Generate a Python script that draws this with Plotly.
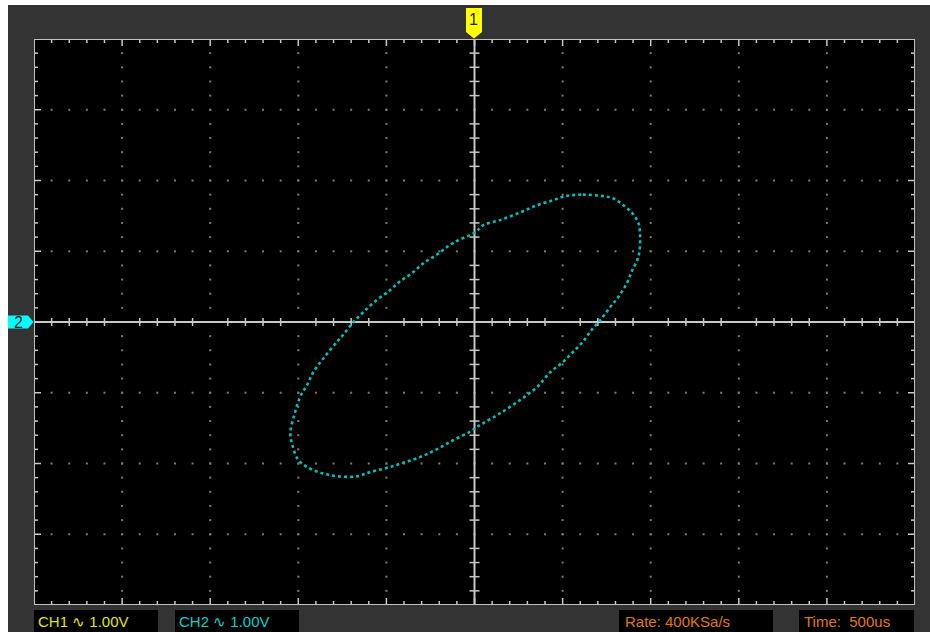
import plotly.graph_objects as go

# ---- data (volts, 1.00 V/div; CH1 on X, CH2 on Y) ----
ch1_x = [1.03, 1.23, 1.45, 1.57, 1.69, 1.79, 1.86, 1.88, 1.86, 1.79, 1.73, 1.63, 1.54, 1.43,
         1.33, 1.23, 1.12, 1.00, 0.86, 0.71, 0.52, 0.29, 0.10, 0.03, -0.05, -0.24, -0.43, -0.62,
         -0.81, -0.99, -1.18, -1.33, -1.56, -1.75, -1.90, -2.00, -2.06, -2.09, -2.04, -1.98, -1.90,
         -1.83, -1.70, -1.56, -1.49, -1.38, -1.27, -1.11, -0.96, -0.85, -0.71, -0.58, -0.43, -0.24,
         0.01, 0.10, 0.29, 0.52, 0.71, 0.89, 1.03]
ch2_y = [1.78, 1.80, 1.78, 1.75, 1.65, 1.54, 1.40, 1.20, 0.92, 0.73, 0.55, 0.35, 0.21, 0.03,
         -0.11, -0.28, -0.42, -0.57, -0.71, -0.92, -1.10, -1.29, -1.43, -1.48, -1.55, -1.67, -1.80,
         -1.91, -1.99, -2.06, -2.12, -2.18, -2.18, -2.13, -2.05, -1.95, -1.77, -1.57, -1.29, -1.06,
         -0.89, -0.71, -0.49, -0.28, -0.18, -0.01, 0.13, 0.31, 0.45, 0.57, 0.69, 0.83, 0.95, 1.12,
         1.27, 1.37, 1.44, 1.55, 1.65, 1.72, 1.78]
ch1_label = "CH1 ∿ 1.00V"
ch2_label = "CH2 ∿ 1.00V"
rate_label = "Rate: 400KSa/s"
time_label = "Time:  500us"
x_divs = 10
y_divs = 8
sub = 5

W, H = 930, 632
PX0, PX1, PY0, PY1 = 34, 915, 39, 605
xpd = (PX1 - PX0) / x_divs
ypd = (PY1 - PY0) / y_divs


def px(x):
    return x / W


def py(y):
    return 1 - y / H


fig = go.Figure()

# dotted grid
gx, gy = [], []
for i in range(-x_divs // 2 + 1, x_divs // 2):
    if i == 0:
        continue
    for k in range(-y_divs // 2 * sub + 1, y_divs // 2 * sub):
        gx.append(i)
        gy.append(k / sub)
for j in range(-y_divs // 2 + 1, y_divs // 2):
    if j == 0:
        continue
    for k in range(-x_divs // 2 * sub + 1, x_divs // 2 * sub):
        gx.append(k / sub)
        gy.append(j)
fig.add_trace(go.Scatter(x=gx, y=gy, mode="markers",
                         marker=dict(symbol="square", size=2, color="#7a7a7a", line=dict(width=0)),
                         hoverinfo="skip"))

# ticks
tx, ty = [], []
hx = x_divs / 2
hy = y_divs / 2
dxp = 1 / xpd  # one pixel in x data units
dyp = 1 / ypd
for k in range(-x_divs // 2 * sub + 1, x_divs // 2 * sub):
    v = k / sub
    ln = 7 if k % sub == 0 else 4
    tx += [v, v, None, v, v, None]
    ty += [hy, hy - ln * dyp, None, -hy, -hy + ln * dyp, None]
    if k % sub != 0:
        tx += [v, v, None]
        ty += [-4 * dyp, 4 * dyp, None]
for k in range(-y_divs // 2 * sub + 1, y_divs // 2 * sub):
    v = k / sub
    ln = 7 if k % sub == 0 else 4
    tx += [-hx, -hx + ln * dxp, None, hx, hx - ln * dxp, None]
    ty += [v, v, None, v, v, None]
    if k % sub != 0:
        tx += [-5 * dxp, 5 * dxp, None]
        ty += [v, v, None]
fig.add_trace(go.Scatter(x=tx, y=ty, mode="lines", line=dict(color="#c8c8c8", width=1.5),
                         hoverinfo="skip"))
# center axes
fig.add_trace(go.Scatter(x=[-hx, hx, None, 0, 0], y=[0, 0, None, -hy, hy], mode="lines",
                         line=dict(color="#c8c8c8", width=2), hoverinfo="skip"))

# XY trace
fig.add_trace(go.Scatter(x=ch1_x, y=ch2_y, mode="lines",
                         line=dict(color="#00c0c0", width=2.6, dash="dot", shape="spline"),
                         hoverinfo="skip"))

shapes = []
# dark background
shapes.append(dict(type="rect", xref="paper", yref="paper", x0=px(8), x1=px(W), y0=py(H), y1=py(5),
                   fillcolor="#333333", line=dict(width=0), layer="below"))
shapes.append(dict(type="rect", xref="paper", yref="paper", x0=px(PX0), x1=px(PX1), y0=py(PY1), y1=py(PY0),
                   fillcolor="#000000", line=dict(width=0), layer="below"))
# border
shapes.append(dict(type="rect", xref="x", yref="y", x0=-hx, x1=hx, y0=-hy, y1=hy,
                   line=dict(color="#c0c0c0", width=2), layer="above"))
# label boxes
for (a, b) in [(34, 158), (175, 299), (619, 773), (799, 914)]:
    shapes.append(dict(type="rect", xref="paper", yref="paper", x0=px(a), x1=px(b), y0=py(632), y1=py(610),
                       fillcolor="#000000", line=dict(width=0), layer="below"))


def path(pts):
    return "M " + " L ".join(f"{px(a):.5f},{py(b):.5f}" for a, b in pts) + " Z"


# channel markers
shapes.append(dict(type="path", xref="paper", yref="paper",
                   path=path([(466, 8), (482, 8), (482, 32), (474, 38.5), (466, 32)]),
                   fillcolor="#ffff00", line=dict(width=0)))
shapes.append(dict(type="path", xref="paper", yref="paper",
                   path=path([(8, 315.5), (28, 315.5), (33.5, 322), (28, 328.5), (8, 328.5)]),
                   fillcolor="#00ffff", line=dict(width=0)))

font = "Liberation Sans, Arial, sans-serif"
ann = [
    dict(x=px(474), y=py(20), text="1", font=dict(color="#202020", size=16, family=font)),
    dict(x=px(18), y=py(322), text="2", font=dict(color="#202020", size=16, family=font)),
    dict(x=px(36), y=py(621), text=ch1_label, xanchor="left", font=dict(color="#e6e600", size=15, family=font)),
    dict(x=px(177), y=py(621), text=ch2_label, xanchor="left", font=dict(color="#00d2d2", size=15, family=font)),
    dict(x=px(623), y=py(621), text=rate_label, xanchor="left", font=dict(color="#e07a00", size=15, family=font)),
    dict(x=px(802), y=py(621), text=time_label, xanchor="left", font=dict(color="#e07a00", size=15, family=font)),
]
for a in ann:
    a.update(xref="paper", yref="paper", showarrow=False, yanchor="middle")
    a.setdefault("xanchor", "center")

fig.update_layout(
    width=W, height=H, margin=dict(l=0, r=0, t=0, b=0),
    paper_bgcolor="#ffffff", plot_bgcolor="rgba(0,0,0,0)",
    showlegend=False, shapes=shapes, annotations=ann,
    xaxis=dict(range=[-hx, hx], domain=[px(PX0), px(PX1)], visible=False, fixedrange=True),
    yaxis=dict(range=[-hy, hy], domain=[py(PY1), py(PY0)], visible=False, fixedrange=True),
)
fig.write_html("out.html", config={"displayModeBar": False},
               post_script="document.body.style.margin='0';document.body.style.overflow='hidden';")
